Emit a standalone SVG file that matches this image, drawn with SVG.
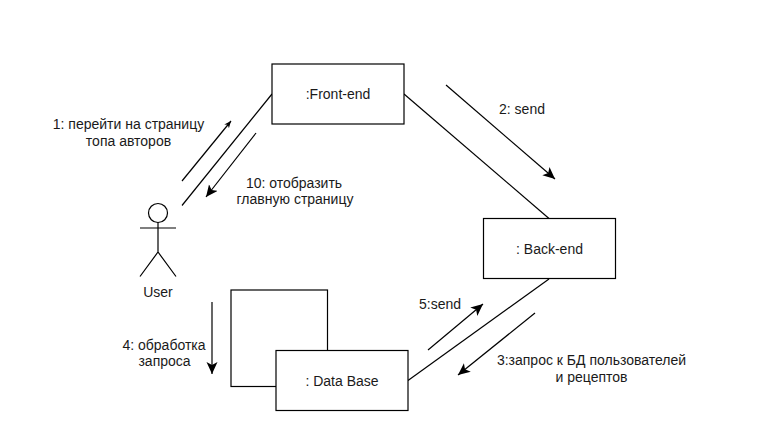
<svg xmlns="http://www.w3.org/2000/svg" width="773" height="442" viewBox="0 0 773 442">
<style>
.s{fill:none;stroke:#000;stroke-width:1.2}
.b{fill:#fff;stroke:#000;stroke-width:1.2}
text{font-family:"Liberation Sans",Arial,sans-serif;font-size:14px;fill:#1a1a1a;text-anchor:middle}
</style>
<defs>
<marker id="solid" markerUnits="userSpaceOnUse" markerWidth="14" markerHeight="12" refX="12" refY="5.500" orient="auto"><path d="M0 0L12 5.500L0 11L3 5.500Z" fill="#000"/></marker>
<marker id="open" markerUnits="userSpaceOnUse" markerWidth="10" markerHeight="10" refX="7" refY="3" orient="auto"><path d="M0 0L7 3L0 6L2 3Z" fill="#000"/></marker>
</defs>
<rect width="773" height="442" fill="#fff"/>
<g id="connectors">
<line class="s" x1="272" y1="94" x2="182" y2="205.500"/>
<line class="s" x1="404" y1="94" x2="549" y2="218.500"/>
<line class="s" x1="549" y1="279" x2="408" y2="380.500"/>
<line class="s" x1="182" y1="181" x2="231" y2="121" marker-end="url(#open)"/>
<line class="s" x1="256" y1="133" x2="206" y2="197" marker-end="url(#solid)"/>
<line class="s" x1="446" y1="85" x2="555" y2="179" marker-end="url(#solid)"/>
<line class="s" x1="428" y1="350" x2="483" y2="304" marker-end="url(#solid)"/>
<line class="s" x1="535" y1="313" x2="458" y2="375" marker-end="url(#solid)"/>
<line class="s" x1="212" y1="302" x2="212" y2="374" marker-end="url(#solid)"/>
</g>
<g id="user">
<circle class="s" cx="158" cy="213" r="9.500"/>
<path class="s" d="M158 222.500V252M140 228H176M140 276.500L158 252L176 276.500"/>
<text x="158" y="297">User</text>
</g>
<g id="front-end">
<rect class="b" x="272" y="64" width="132" height="60"/>
<text x="338" y="99">:Front-end</text>
</g>
<g id="back-end">
<rect class="b" x="483.500" y="218.500" width="132" height="60"/>
<text x="549.500" y="254">: Back-end</text>
</g>
<g id="data-base-back">
<rect class="b" x="231" y="290" width="96.500" height="96.500"/>
</g>
<g id="data-base">
<rect class="b" x="276" y="350.500" width="132" height="60"/>
<text x="342" y="386">: Data Base</text>
</g>
<g id="labels">
<text x="128.500" y="129">1: перейти на страницу</text>
<text x="128.500" y="146">топа авторов</text>
<text x="294" y="188">10: отобразить</text>
<text x="295" y="204">главную страницу</text>
<text x="522" y="114">2: send</text>
<text x="440" y="309">5:send</text>
<text x="591.500" y="365">3:запрос к БД пользователей</text>
<text x="591.500" y="382">и рецептов</text>
<text x="164" y="350">4: обработка</text>
<text x="164.500" y="366">запроса</text>
</g>
</svg>
